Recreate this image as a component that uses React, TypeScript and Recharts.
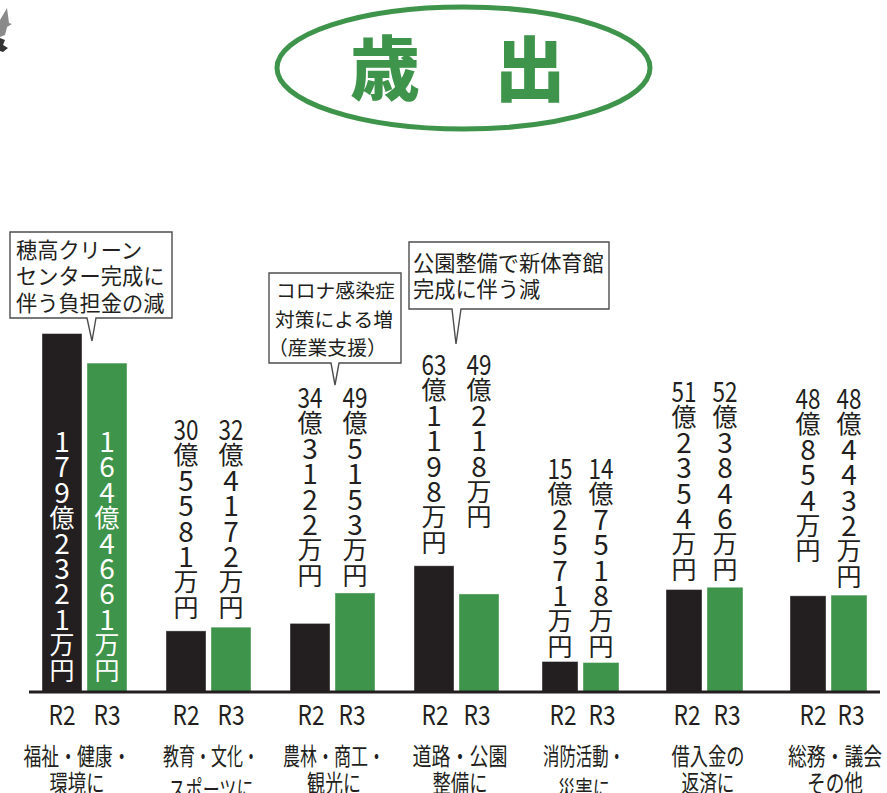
import { BarChart, Bar, XAxis, YAxis, LabelList } from "recharts";

// 金額はすべて万円単位
const categoryLines = [
  ["福祉・健康・", "環境に"],
  ["教育・文化・", "スポーツに"],
  ["農林・商工・", "観光に"],
  ["道路・公園", "整備に"],
  ["消防活動・", "災害に"],
  ["借入金の", "返済に"],
  ["総務・議会", "その他"],
];
const r2Values = [1792321, 305581, 343122, 631198, 152571, 512354, 480854];
const r3Values = [1644661, 324172, 495153, 490218, 147518, 523846, 484432];

const data = categoryLines.map((lines, i) => ({
  name: lines.join(""),
  r2: r2Values[i],
  r3: r3Values[i],
}));

const INK = "#231f20";
const GREEN = "#3f944b";
const FONT = '"Noto Sans CJK JP", "Noto Sans", sans-serif';

// 4項目目までは幅40、それ以降は幅36の棒
const NARROW_FROM = 4;
const LINE_PITCH = 25.4;
// 縦書きラベル先頭行の中心y
const labelTops = [440, 428, 396, 363, 467, 390, 397];
// 年度ラベルの項目中心からのずれ
const r2Offsets = [-22, -22, -21, -21, -17, -17, -15];
const r3Offsets = [23, 23, 20, 21, 22, 23, 23];
// 項目名の行幅と中心のずれ
const line1Widths = [107, 96, 102, 95, 82, 73, 94];
const line2Widths = [55, 85, 54, 55, 52, 53, 56];
const nameOffsets = [-7, 3, 2, 4, 4, 4, 7];
const line2Baselines = [792, 798, 792, 792, 798, 792, 792];

const callouts = [
  {
    box: [10, 232, 162, 86],
    tail: [87, 96, 92, 341],
    size: 21.2,
    lines: [
      ["穂高クリーン", 16, 258],
      ["センター完成に", 16, 284],
      ["伴う負担金の減", 16, 311],
    ],
  },
  {
    box: [269, 273, 132, 90],
    tail: [331, 339, 335, 385],
    size: 19.8,
    lines: [
      ["コロナ感染症", 276, 298],
      ["対策による増", 275, 327],
      ["（産業支援）", 268, 355],
    ],
  },
  {
    box: [409, 242, 200, 67],
    tail: [452, 461, 456, 344],
    size: 21.2,
    lines: [
      ["公園整備で新体育館", 413, 271],
      ["完成に伴う減", 413, 297],
    ],
  },
];

function splitAmount(value: number) {
  const oku = Math.floor(value / 10000);
  const man = value % 10000;
  const head = oku >= 100 ? String(oku).split("") : [String(oku)];
  return [...head, "億", ...String(man).split(""), "万", "円"];
}

function AmountBar(props: any) {
  const { x, y, width, height, fill, index, side } = props;
  const narrow = index >= NARROW_FROM;
  const w = narrow ? width - 4 : width;
  const left = narrow && side === "r2" ? x + 4 : x;
  return <rect x={left} y={y} width={w} height={height + 1} fill={fill} stroke="#fff" strokeOpacity={0.5} strokeWidth={0.8} />;
}

// 金額を一文字ずつ縦に積む
function verticalLabel(side: "r2" | "r3") {
  return (props: any) => {
    const { x, width, value, index } = props;
    const shift = index >= NARROW_FROM ? (side === "r2" ? 2 : -2) : 0;
    const cx = x + width / 2 + shift;
    const color = index === 0 ? "#fff" : INK;
    return (
      <g>
        {splitAmount(value).map((token, i) => {
          const isDigit = /\d/.test(token);
          return (
            <text
              key={i}
              x={cx}
              y={labelTops[index] + i * LINE_PITCH}
              textAnchor="middle"
              dominantBaseline="central"
              fontFamily={FONT}
              fontSize={isDigit ? 28 : 25}
              fill={color}
              {...(token.length > 1 ? { textLength: 25, lengthAdjust: "spacingAndGlyphs" } : {})}
            >
              {token}
            </text>
          );
        })}
      </g>
    );
  };
}

function CategoryTick(props: any) {
  const { x, index } = props;
  const [first, second] = categoryLines[index];
  const nameX = x + nameOffsets[index];
  const common = { textAnchor: "middle" as const, fontFamily: FONT, fill: INK, lengthAdjust: "spacingAndGlyphs" };
  return (
    <g>
      <text {...common} x={x + r2Offsets[index]} y={725} fontSize={27} textLength={27}>R2</text>
      <text {...common} x={x + r3Offsets[index]} y={725} fontSize={27} textLength={27}>R3</text>
      <text {...common} x={nameX} y={765} fontSize={24} textLength={line1Widths[index]}>{first}</text>
      <text {...common} x={nameX} y={line2Baselines[index]} fontSize={24} textLength={line2Widths[index]}>{second}</text>
    </g>
  );
}

function Heading() {
  return (
    <svg width={887} height={292} style={{ position: "absolute", left: 0, top: 0 }}>
      <path d="M7 8 L9 23 L12 24 L7 27 L5 35 L0 37 L0 20 Z" fill="#8a8a8a" />
      <path d="M0 38 L5 40 L3 45 L8 48 L3 52 L0 51 Z" fill="#333" />
      <ellipse cx={463.5} cy={68} rx={186.5} ry={61} fill="#fff" stroke={GREEN} strokeWidth={5} />
      <text x={385} y={95} textAnchor="middle" fontFamily={FONT} fontWeight={900} fontSize={70} fill={GREEN}>歳</text>
      <text x={530} y={95} textAnchor="middle" fontFamily={FONT} fontWeight={900} fontSize={71} fill={GREEN}>出</text>
    </svg>
  );
}

function Callouts() {
  return (
    <svg width={887} height={400} style={{ position: "absolute", left: 0, top: 0, pointerEvents: "none" }}>
      {callouts.map((c, i) => {
        const [bx, by, bw, bh] = c.box;
        const [tl, tr, tipX, tipY] = c.tail;
        const bottom = by + bh;
        const outline = `M${bx} ${by} H${bx + bw} V${bottom} H${tr} L${tipX} ${tipY} L${tl} ${bottom} H${bx} Z`;
        return (
          <g key={i}>
            <path d={outline} fill="#fff" stroke="#4d4d4f" strokeWidth={1.4} />
            {c.lines.map(([text, x, y]) => (
              <text key={text as string} x={x as number} y={y as number} fontFamily={FONT} fontSize={c.size} fill={INK}>
                {text}
              </text>
            ))}
          </g>
        );
      })}
    </svg>
  );
}

export default function App() {
  return (
    <div style={{ position: "absolute", left: 0, top: 0, width: 887, height: 793, overflow: "hidden", background: "#fff" }}>
      <Heading />
      <div style={{ position: "absolute", left: 0, top: 0 }}>
        <BarChart
          width={887}
          height={793}
          data={data}
          margin={{ top: 292, right: 7, bottom: 0, left: 29 }}
          barSize={40}
          barGap={5}
        >
          <XAxis
            dataKey="name"
            height={101}
            interval={0}
            tickLine={false}
            tick={CategoryTick}
            axisLine={{ stroke: INK, strokeWidth: 3 }}
            padding={{ left: -7, right: -10 }}
          />
          <YAxis hide domain={[0, 2000000]} />
          <Bar dataKey="r2" fill={INK} isAnimationActive={false} shape={(p: any) => <AmountBar {...p} side="r2" />}>
            <LabelList dataKey="r2" content={verticalLabel("r2")} />
          </Bar>
          <Bar dataKey="r3" fill={GREEN} isAnimationActive={false} shape={(p: any) => <AmountBar {...p} side="r3" />}>
            <LabelList dataKey="r3" content={verticalLabel("r3")} />
          </Bar>
        </BarChart>
      </div>
      <Callouts />
    </div>
  );
}
